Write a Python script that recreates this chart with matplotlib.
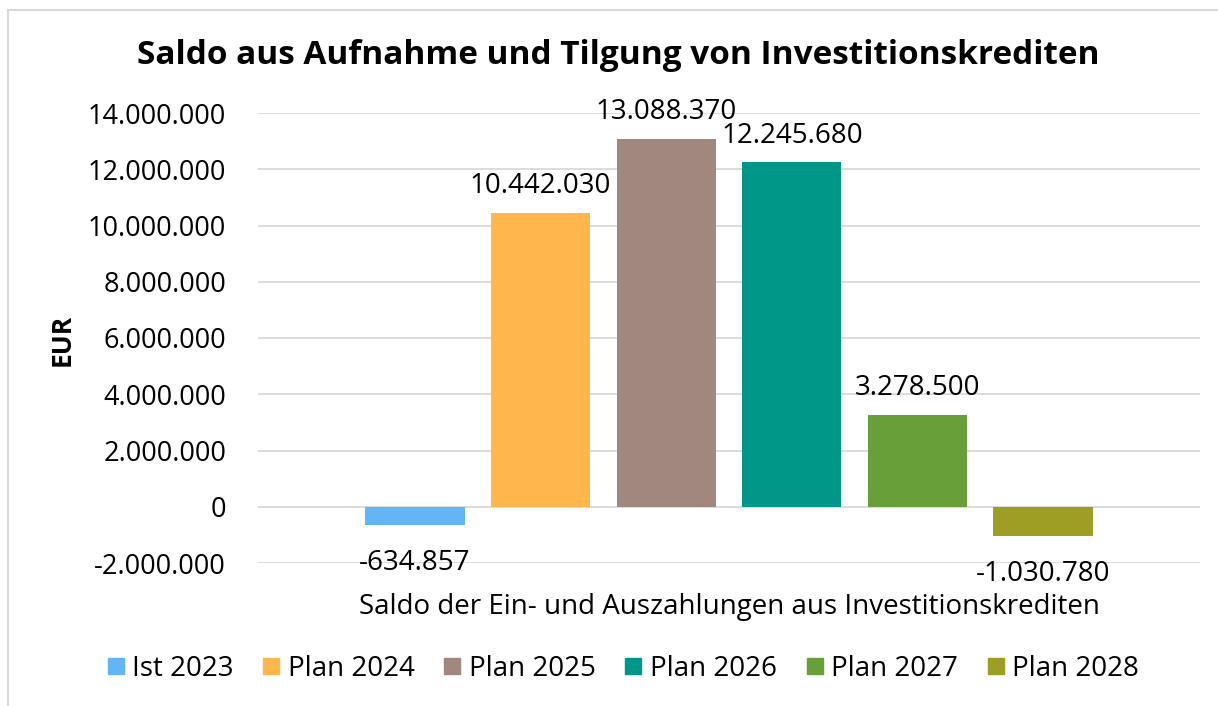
import numpy as np
import matplotlib.pyplot as plt
from matplotlib.lines import Line2D
from matplotlib.ticker import FuncFormatter

plt.rcParams['font.family'] = ['Open Sans', 'DejaVu Sans']

series = ['Ist 2023', 'Plan 2024', 'Plan 2025', 'Plan 2026', 'Plan 2027', 'Plan 2028']
values = [-634857, 10442030, 13088370, 12245680, 3278500, -1030780]
colors = ['#64b5f6', '#ffb74d', '#a1887f', '#009688', '#689f38', '#9e9d24']
category = 'Saldo der Ein- und Auszahlungen aus Investitionskrediten'


def de_fmt(v):
    s = '{:,.0f}'.format(abs(v)).replace(',', '.')
    return ('-' if v < 0 else '') + s


fig = plt.figure(figsize=(12.18, 7.06), dpi=100)
ax = fig.add_axes([258 / 1218, 1 - 563 / 706, 942 / 1218, (563 - 113) / 706])

n = len(series)
width = 0.79
for i, (name, v, c) in enumerate(zip(series, values, colors)):
    x = i - (n - 1) / 2
    ax.bar(x, v, width=width, color=c, label=name, zorder=3)
    if v >= 0:
        ax.text(x, v + 450000, de_fmt(v), ha='center', va='bottom', fontsize=20)
    else:
        ax.text(x, v - 850000, de_fmt(v), ha='center', va='top', fontsize=20)

ax.set_xlim(-3.75, 3.75)
ax.set_ylim(-2000000, 14000000)
ax.set_yticks(np.arange(-2000000, 14000001, 2000000))
ax.yaxis.set_major_formatter(FuncFormatter(lambda v, p: de_fmt(v)))
ax.tick_params(axis='y', labelsize=19.5, length=0, pad=23)
ax.set_xticks([])
ax.grid(axis='y', color='#d9d9d9', linewidth=1.3, zorder=0)
for s in ax.spines.values():
    s.set_visible(False)

fig.text(618 / 1218, 1 - 55 / 706, 'Saldo aus Aufnahme und Tilgung von Investitionskrediten',
         ha='center', va='center', fontsize=24, fontweight='bold')
fig.text(62 / 1218, 1 - 340 / 706, 'EUR', rotation=90, ha='center', va='center',
         fontsize=19, fontweight='bold')
fig.text(729 / 1218, 1 - 607 / 706, category, ha='center', va='center', fontsize=20)

handles = [Line2D([], [], marker='s', linestyle='none', markersize=12,
                  markerfacecolor=c, markeredgecolor=c) for c in colors]
fig.legend(handles, series, loc='center', bbox_to_anchor=(624 / 1218, 1 - 669 / 706),
           ncol=n, frameon=False, fontsize=20, handlelength=0.5, handletextpad=0.35,
           columnspacing=1.1)

# chart frame (top and left edges visible in the crop)
fig.add_artist(Line2D([8 / 1218, 8 / 1218], [0, 1 - 10 / 706], color='#d9d9d9', linewidth=1.5,
                      transform=fig.transFigure))
fig.add_artist(Line2D([8 / 1218, 1], [1 - 10 / 706, 1 - 10 / 706], color='#d9d9d9', linewidth=1.5,
                      transform=fig.transFigure))

fig.savefig('out.png', dpi=100)
